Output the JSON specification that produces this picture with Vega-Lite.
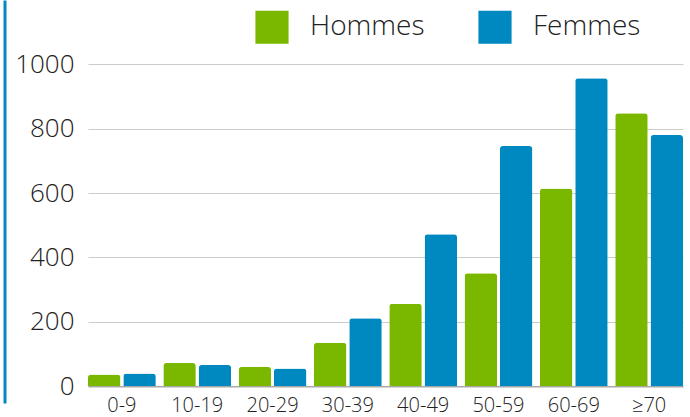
{
  "$schema": "https://vega.github.io/schema/vega-lite/v6.json",
  "autosize": {"type": "none"},
  "padding": {"left": 88, "top": 0, "right": 7, "bottom": 14},
  "width": 595,
  "height": 403,
  "background": "white",
  "config": {
    "view": {"stroke": null},
    "font": "Open Sans",
    "axis": {"labelFont": "Open Sans", "labelFontWeight": 300, "labelColor": "#222222"},
    "legend": {"labelFont": "Open Sans", "labelFontWeight": 300, "labelColor": "#222222"}
  },
  "data": {
    "values": [
      {"age": "0-9", "sexe": "Hommes", "valeur": 37},
      {"age": "0-9", "sexe": "Femmes", "valeur": 40},
      {"age": "10-19", "sexe": "Hommes", "valeur": 72},
      {"age": "10-19", "sexe": "Femmes", "valeur": 66},
      {"age": "20-29", "sexe": "Hommes", "valeur": 60},
      {"age": "20-29", "sexe": "Femmes", "valeur": 55},
      {"age": "30-39", "sexe": "Hommes", "valeur": 135},
      {"age": "30-39", "sexe": "Femmes", "valeur": 211},
      {"age": "40-49", "sexe": "Hommes", "valeur": 256},
      {"age": "40-49", "sexe": "Femmes", "valeur": 472},
      {"age": "50-59", "sexe": "Hommes", "valeur": 351},
      {"age": "50-59", "sexe": "Femmes", "valeur": 746},
      {"age": "60-69", "sexe": "Hommes", "valeur": 614},
      {"age": "60-69", "sexe": "Femmes", "valeur": 956},
      {"age": "≥70", "sexe": "Hommes", "valeur": 848},
      {"age": "≥70", "sexe": "Femmes", "valeur": 780}
    ]
  },
  "encoding": {
    "x": {
      "field": "age",
      "type": "nominal",
      "sort": ["0-9", "10-19", "20-29", "30-39", "40-49", "50-59", "60-69", "≥70"],
      "scale": {"paddingInner": 0.1, "paddingOuter": 0},
      "axis": {
        "title": null,
        "labelAngle": 0,
        "labelFontSize": 20,
        "labelPadding": 9,
        "ticks": false,
        "offset": -16.7,
        "domainColor": "#aaaaaa",
        "domainWidth": 1.5
      }
    },
    "xOffset": {
      "field": "sexe",
      "type": "nominal",
      "sort": ["Hommes", "Femmes"],
      "scale": {"paddingInner": 0.08}
    }
  },
  "layer": [
    {
      "mark": {"type": "bar", "cornerRadiusTopLeft": 3, "cornerRadiusTopRight": 3},
      "encoding": {
        "y": {
          "field": "valeur",
          "type": "quantitative",
          "scale": {"domain": [-51.8, 1199.3], "nice": false, "zero": false},
          "axis": {
            "title": null,
            "values": [0, 200, 400, 600, 800, 1000],
            "format": "d",
            "labelFontSize": 26,
            "labelPadding": 14,
            "ticks": false,
            "domain": false,
            "grid": true,
            "gridColor": "#cccccc",
            "gridWidth": 1
          }
        },
        "color": {
          "field": "sexe",
          "type": "nominal",
          "scale": {"domain": ["Hommes", "Femmes"], "range": ["#7AB800", "#0088C0"]},
          "legend": {
            "title": null,
            "orient": "none",
            "direction": "horizontal",
            "legendX": 167,
            "legendY": 10,
            "symbolType": "square",
            "symbolSize": 1100,
            "symbolStrokeWidth": 0,
            "symbolOpacity": 1,
            "labelFontSize": 28,
            "labelOffset": 21,
            "columnPadding": 53
          }
        }
      }
    },
    {
      "mark": {"type": "bar", "opacity": 0},
      "encoding": {
        "y": {
          "field": "valeur",
          "type": "quantitative",
          "axis": {
            "orient": "left",
            "title": null,
            "labels": false,
            "ticks": false,
            "grid": false,
            "domain": true,
            "domainColor": "#0088C0",
            "domainWidth": 3,
            "offset": 83.5
          }
        }
      }
    }
  ],
  "resolve": {"axis": {"y": "independent"}}
}
